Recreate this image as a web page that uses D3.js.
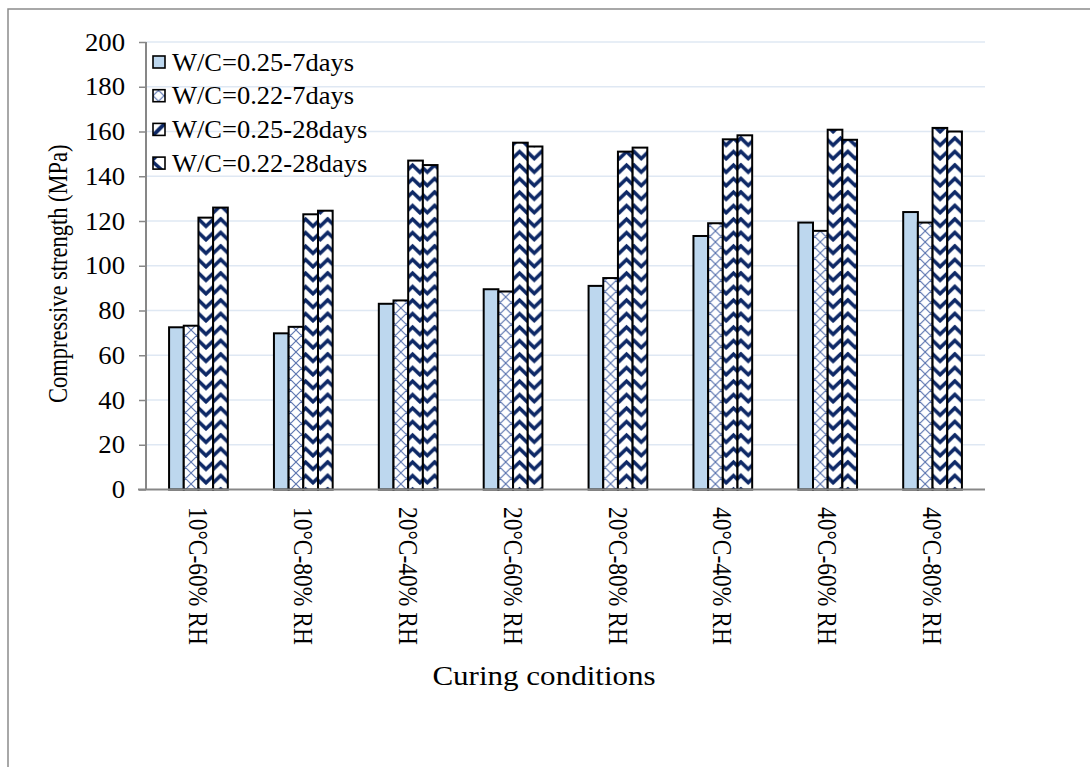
<!DOCTYPE html>
<html>
<head>
<meta charset="utf-8">
<script src="https://cdn.jsdelivr.net/npm/d3@7"></script>
<style>
  html, body { margin: 0; padding: 0; background: #fff; }
  svg { display: block; }
  text { font-family: "Liberation Serif", "Times New Roman", serif; fill: #000; }
</style>
</head>
<body>
<svg id="chart" width="1090" height="767"></svg>
<script>
// Compressive strength (MPa) by curing condition
const categories = ["10°C-60% RH", "10°C-80% RH", "20°C-40% RH", "20°C-60% RH",
                    "20°C-80% RH", "40°C-40% RH", "40°C-60% RH", "40°C-80% RH"];
const seriesNames = ["W/C=0.25-7days", "W/C=0.22-7days", "W/C=0.25-28days", "W/C=0.22-28days"];
const wc025_7d  = [72.5, 69.8, 83.0, 89.5, 91.0, 113.3, 119.3, 124.0];
const wc022_7d  = [73.2, 72.7, 84.5, 88.5, 94.5, 119.0, 115.6, 119.3];
const wc025_28d = [121.5, 123.0, 147.0, 155.0, 151.0, 156.5, 160.8, 161.6];
const wc022_28d = [126.0, 124.6, 145.0, 153.3, 152.8, 158.3, 156.3, 160.0];
const yTicks = [0, 20, 40, 60, 80, 100, 120, 140, 160, 180, 200];

const seriesValues = [wc025_7d, wc022_7d, wc025_28d, wc022_28d];

const svg = d3.select("#chart");
const defs = svg.append("defs");

const plot = { left: 146, right: 985, top: 42, bottom: 489.5 };
const NAVY = "#0d2866";
const LIGHT = "#bdd7ee";
const HATCH = "#5670ad";
const FONT = 25;
const WIDEN = 1.07;   // the figure is drawn slightly wider than tall

const x0 = d3.scaleBand().domain(categories)
  .range([plot.left, plot.right]).paddingInner(0.44).paddingOuter(0.22);
const x1 = d3.scaleBand().domain(d3.range(4)).range([0, x0.bandwidth()]);
const y = d3.scaleLinear().domain([0, 200]).range([plot.bottom, plot.top]);

// chart frame
svg.append("path")
  .attr("d", "M8,767 L8,9 L1090,9")
  .attr("fill", "none").attr("stroke", "#8c8c8c").attr("stroke-width", 1.5);

// horizontal gridlines
svg.append("g").selectAll("line").data(yTicks.filter(d => d > 0)).join("line")
  .attr("x1", plot.left).attr("x2", plot.right)
  .attr("y1", d => y(d)).attr("y2", d => y(d))
  .attr("stroke", "#dfe8f3").attr("stroke-width", 1.3);

// cross-hatch pattern for the W/C=0.22 7-day series
const hp = defs.append("pattern").attr("id", "hatch")
  .attr("patternUnits", "userSpaceOnUse").attr("width", 11).attr("height", 11);
hp.append("rect").attr("width", 11).attr("height", 11).attr("fill", "#fff");
hp.append("path").attr("d", "M0,0 L11,11 M11,0 L0,11 M-1,1 L1,-1 M10,12 L12,10 M-1,10 L1,12 M10,-1 L12,1")
  .attr("stroke", HATCH).attr("stroke-width", 1.1).attr("fill", "none");

// zig-zag patterns, one per bar so each chevron is centred on its bar
const bw = x1.bandwidth();
const period = 13.5, rise = 7;
function zigzag(id, xPos, up) {
  const p = defs.append("pattern").attr("id", id)
    .attr("patternUnits", "userSpaceOnUse")
    .attr("x", xPos).attr("y", 0).attr("width", bw).attr("height", period);
  p.append("rect").attr("width", bw).attr("height", period).attr("fill", "#fff");
  let d = "";
  for (let k = -1; k <= 2; k++) {
    const a = k * period + period * 0.75;
    d += up
      ? `M-1,${a + 1} L${bw / 2},${a - rise} L${bw + 1},${a + 1} `
      : `M-1,${a - rise - 1} L${bw / 2},${a} L${bw + 1},${a - rise - 1} `;
  }
  p.append("path").attr("d", d).attr("fill", "none")
    .attr("stroke", NAVY).attr("stroke-width", 3.6).attr("stroke-linejoin", "miter");
}
categories.forEach((c, i) => {
  zigzag(`zz2-${i}`, x0(c) + x1(2), true);
  zigzag(`zz3-${i}`, x0(c) + x1(3), false);
});

function fillFor(s, i) {
  if (s === 0) return LIGHT;
  if (s === 1) return "url(#hatch)";
  return `url(#zz${s}-${i})`;
}

// bars
const groups = svg.append("g").selectAll("g").data(categories).join("g")
  .attr("transform", c => `translate(${x0(c)},0)`);
groups.selectAll("rect")
  .data((c, i) => seriesValues.map((vals, s) => ({ s, i, v: vals[i] })))
  .join("rect")
  .attr("x", d => x1(d.s))
  .attr("width", bw)
  .attr("y", d => y(d.v))
  .attr("height", d => y(0) - y(d.v))
  .attr("fill", d => fillFor(d.s, d.i))
  .attr("stroke", "#000").attr("stroke-width", 2);

// axes
const axisColor = "#878787";
svg.append("line").attr("x1", plot.left).attr("x2", plot.left)
  .attr("y1", plot.top).attr("y2", plot.bottom)
  .attr("stroke", axisColor).attr("stroke-width", 2);
svg.append("line").attr("x1", plot.left - 8).attr("x2", plot.right)
  .attr("y1", plot.bottom).attr("y2", plot.bottom)
  .attr("stroke", axisColor).attr("stroke-width", 2);

const yAxis = d3.axisLeft(y).tickValues(yTicks).tickSize(7).tickFormat(d3.format("d"));
const ya = svg.append("g").attr("transform", `translate(${plot.left},0)`).call(yAxis);
ya.select(".domain").remove();
ya.selectAll(".tick line").attr("stroke", axisColor).attr("stroke-width", 1.5);
ya.selectAll(".tick text")
  .attr("x", null).attr("dy", null)
  .attr("transform", `translate(-21,0) scale(${WIDEN},1)`)
  .attr("dominant-baseline", "central")
  .attr("font-size", FONT)
  .attr("font-family", "Liberation Serif").attr("fill", "#000");

// category labels, rotated to read downward
svg.append("g").selectAll("text").data(categories).join("text")
  .attr("transform", c => `translate(${x0(c) + x0.bandwidth() / 2},507) rotate(90) scale(0.94,${WIDEN})`)
  .attr("dy", "0.35em")
  .attr("font-size", FONT)
  .text(c => c);

// axis titles
svg.append("text")
  .attr("transform", `translate(58,${(plot.top + plot.bottom) / 2 + 8}) rotate(-90) scale(0.9,${WIDEN})`)
  .attr("text-anchor", "middle").attr("dy", "0.35em")
  .attr("font-size", FONT)
  .text("Compressive strength (MPa)");
svg.append("text")
  .attr("transform", "translate(544,676) scale(1.15,1)")
  .attr("dy", "0.35em")
  .attr("text-anchor", "middle").attr("font-size", 27)
  .text("Curing conditions");

// legend markers
const lp2 = defs.append("pattern").attr("id", "leg2")
  .attr("patternUnits", "objectBoundingBox").attr("width", 1).attr("height", 1);
lp2.append("rect").attr("width", 12).attr("height", 12).attr("fill", "#fff");
lp2.append("path").attr("d", "M-1,13 L13,-1").attr("stroke", NAVY).attr("stroke-width", 4);
const lp3 = defs.append("pattern").attr("id", "leg3")
  .attr("patternUnits", "objectBoundingBox").attr("width", 1).attr("height", 1);
lp3.append("rect").attr("width", 12).attr("height", 12).attr("fill", "#fff");
lp3.append("path").attr("d", "M0,0 L0,5 L5,0 Z").attr("fill", NAVY);
lp3.append("path").attr("d", "M-1,4 L9,13").attr("stroke", NAVY).attr("stroke-width", 3.5);

const legendFills = [LIGHT, "url(#hatch)", "url(#leg2)", "url(#leg3)"];
const legend = svg.append("g").selectAll("g").data(seriesNames).join("g")
  .attr("transform", (d, i) => `translate(153,${62 + i * 33.7})`);
legend.append("rect")
  .attr("x", 0).attr("y", -6).attr("width", 12).attr("height", 12)
  .attr("fill", (d, i) => legendFills[i])
  .attr("stroke", "#000").attr("stroke-width", 1.6);
legend.append("text")
  .attr("transform", `translate(19,0) scale(1.06,1)`)
  .attr("dy", "0.35em")
  .attr("font-size", FONT)
  .text(d => d);
</script>
</body>
</html>
